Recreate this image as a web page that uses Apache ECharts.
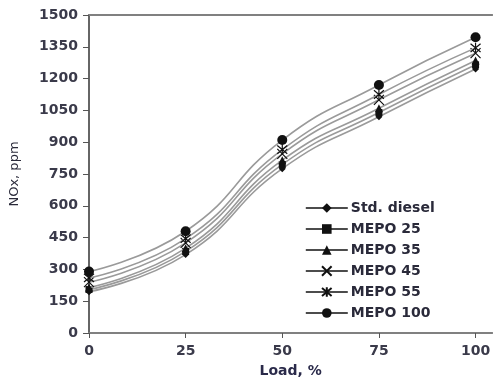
<!DOCTYPE html>
<html>
<head>
<meta charset="utf-8">
<script src="https://cdn.jsdelivr.net/npm/echarts@6/dist/echarts.min.js"></script>
<style>html,body{margin:0;padding:0;background:#fff}#c{width:493px;height:383px}</style>
</head>
<body>
<div id="c"></div>
<script>
const loads = [0, 25, 50, 75, 100];
const seriesNames = ['Std. diesel', 'MEPO 25', 'MEPO 35', 'MEPO 45', 'MEPO 55', 'MEPO 100'];
const stdDiesel = [195, 370, 775, 1020, 1245];
const mepo25 = [205, 385, 795, 1040, 1265];
const mepo35 = [215, 400, 815, 1060, 1285];
const mepo45 = [240, 425, 845, 1100, 1320];
const mepo55 = [260, 445, 865, 1125, 1345];
const mepo100 = [290, 480, 910, 1170, 1395];
const yTicks = [0, 150, 300, 450, 600, 750, 900, 1050, 1200, 1350, 1500];
const xTicks = [0, 25, 50, 75, 100];

const values = [stdDiesel, mepo25, mepo35, mepo45, mepo55, mepo100];
const symbols = ['diamond', 'rect', 'triangle',
  'path://M0,0L10,10M10,0L0,10',
  'path://M0,0L10,10M10,0L0,10M5,-1L5,11',
  'circle'];
const sizes = [7, 7, 8, 10, 10, 10];
const hollow = [false, false, false, true, true, false];

const font = 'DejaVu Sans';
const series = seriesNames.map((n, i) => ({
  name: n,
  type: 'line',
  smooth: true,
  data: loads.map((x, j) => [x, values[i][j]]),
  symbol: symbols[i],
  symbolSize: sizes[i],
  lineStyle: { color: '#9a9a9a', width: 1.6 },
  itemStyle: hollow[i]
    ? { color: 'rgba(0,0,0,0)', borderColor: '#111', borderWidth: 1.2 }
    : { color: '#111', borderColor: '#111', borderWidth: 0 },
  z: 2 + i
}));

const chart = echarts.init(document.getElementById('c'), null, { renderer: 'canvas' });
chart.setOption({
  animation: false,
  backgroundColor: '#fff',
  grid: { left: 85, top: 15, right: 0, bottom: 47 },
  legend: {
    orient: 'vertical',
    left: 300,
    top: 196,
    itemWidth: 42,
    itemHeight: 12,
    itemGap: 7,
    lineStyle: { color: '#111', width: 1.6 },
    textStyle: { fontFamily: font, fontSize: 14, fontWeight: 'bold', color: '#2a2a3a', padding: [0, 0, 0, -2] },
    data: seriesNames
  },
  xAxis: [{
    type: 'value',
    min: 0,
    max: 104.35,
    interval: 25,
    name: 'Load, %',
    nameLocation: 'middle',
    nameGap: 31,
    nameTextStyle: { fontFamily: font, fontSize: 14, fontWeight: 'bold', color: '#2a2a4a' },
    splitLine: { show: false },
    axisLine: { lineStyle: { color: '#808080', width: 2 } },
    axisTick: { length: 5, lineStyle: { color: '#555', width: 1 } },
    axisLabel: { showMaxLabel: false, fontFamily: font, fontSize: 14, fontWeight: 'bold', color: '#3a3a4a', margin: 11,
      formatter: v => xTicks.includes(v) ? String(v) : '' }
  }, {
    type: 'value',
    position: 'top',
    min: 0,
    max: 104.35,
    axisLine: { show: true, lineStyle: { color: '#808080', width: 2 } },
    axisTick: { show: false },
    axisLabel: { show: false },
    splitLine: { show: false }
  }],
  yAxis: {
    type: 'value',
    min: 0,
    max: 1500,
    interval: 150,
    name: 'NOx, ppm',
    nameLocation: 'middle',
    nameGap: 68,
    nameTextStyle: { fontFamily: font, fontSize: 13, color: '#2a2a3a' },
    splitLine: { show: false },
    axisLine: { show: true, lineStyle: { color: '#666', width: 2 } },
    axisTick: { length: 6, lineStyle: { color: '#555', width: 1 } },
    axisLabel: { fontFamily: font, fontSize: 14, fontWeight: 'bold', color: '#3a3a4a', margin: 11,
      formatter: v => yTicks.includes(v) ? String(v) : '' }
  },
  series: series
});
</script>
</body>
</html>
